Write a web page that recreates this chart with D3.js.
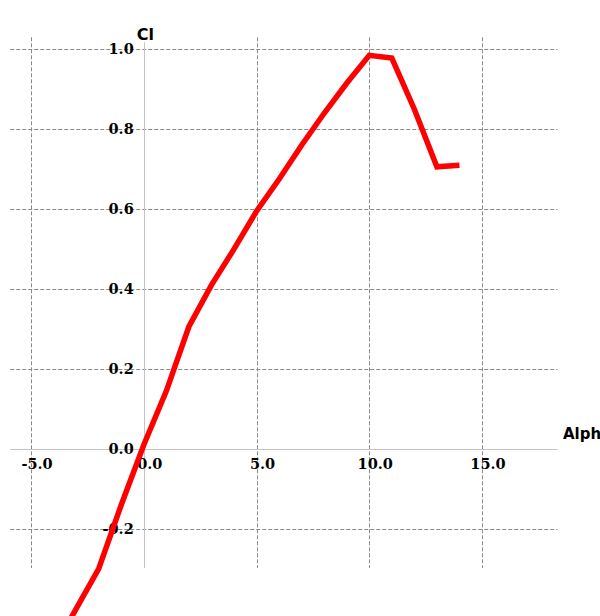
<!DOCTYPE html>
<html>
<head>
<meta charset="utf-8">
<script src="https://cdn.jsdelivr.net/npm/d3@7/dist/d3.min.js"></script>
<style>
  html, body { margin: 0; padding: 0; background: #fff; overflow: hidden; }
  svg { display: block; }
</style>
</head>
<body>
<svg id="chart" width="600" height="616"></svg>
<script>
// Lift coefficient polar: Cl against angle of attack (deg)
const alpha = [-4, -3, -2, -1, 0, 1, 2, 3, 4, 5, 6, 7, 8, 9, 10, 11, 12, 13, 14];
const cl    = [-0.50, -0.40, -0.30, -0.14, 0.01, 0.145, 0.306, 0.41, 0.50, 0.595, 0.675, 0.76, 0.84, 0.915, 0.985, 0.978, 0.85, 0.706, 0.71];

const xTicks = [-5, 0, 5, 10, 15];
const yTicks = [-0.2, 0.0, 0.2, 0.4, 0.6, 0.8, 1.0];
const xGridTicks = [-5, 5, 10, 15];
const yGridTicks = [-0.2, 0.2, 0.4, 0.6, 0.8, 1.0];

const svg = d3.select("#chart");

const x = d3.scaleLinear().domain([-5, 15]).range([31, 482]);
const y = d3.scaleLinear().domain([-0.2, 1.0]).range([529, 49.3]);

// extent of the drawn grid area
const xSpan = [-5.92, 18.35];
const ySpan = [-0.2975, 1.015];

const gridColor = "#8a8a8a";
const axisColor = "#c4c4c4";

// one decimal, plain hyphen for negatives
const fmt = d => d.toFixed(1).replace("-0.0", "0.0");

// dashed grid
svg.append("g").selectAll("line.v").data(xGridTicks).join("line")
  .attr("x1", d => Math.round(x(d)) + 0.5).attr("x2", d => Math.round(x(d)) + 0.5)
  .attr("y1", y(ySpan[1]) - 6).attr("y2", y(ySpan[0]))
  .attr("stroke", gridColor).attr("stroke-width", 1).attr("stroke-dasharray", "4,2");

svg.append("g").selectAll("line.h").data(yGridTicks).join("line")
  .attr("x1", x(xSpan[0])).attr("x2", x(xSpan[1]))
  .attr("y1", d => Math.round(y(d)) + 0.5).attr("y2", d => Math.round(y(d)) + 0.5)
  .attr("stroke", gridColor).attr("stroke-width", 1).attr("stroke-dasharray", "4,2");

// axes through the origin
svg.append("line")
  .attr("x1", x(xSpan[0])).attr("x2", x(xSpan[1]))
  .attr("y1", Math.round(y(0)) + 0.5).attr("y2", Math.round(y(0)) + 0.5)
  .attr("stroke", axisColor).attr("stroke-width", 1);
svg.append("line")
  .attr("x1", Math.round(x(0)) + 0.5).attr("x2", Math.round(x(0)) + 0.5)
  .attr("y1", y(ySpan[1]) - 1).attr("y2", y(ySpan[0]))
  .attr("stroke", axisColor).attr("stroke-width", 1);

// tick labels
const labelFont = "'DejaVu Serif', serif";
svg.append("g").selectAll("text").data(yTicks).join("text")
  .attr("x", x(0) - 10).attr("y", d => y(d) + 5)
  .attr("text-anchor", "end")
  .attr("font-family", labelFont).attr("font-weight", "bold").attr("font-size", 14.5)
  .attr("fill", "#000")
  .text(fmt);

svg.append("g").selectAll("text").data(xTicks).join("text")
  .attr("x", d => x(d) + 6).attr("y", y(0) + 19.5)
  .attr("text-anchor", "middle")
  .attr("font-family", labelFont).attr("font-weight", "bold").attr("font-size", 14.5)
  .attr("fill", "#000")
  .text(fmt);

// axis titles
svg.append("text")
  .attr("x", x(0) - 7).attr("y", 40)
  .attr("font-family", "'DejaVu Sans', sans-serif").attr("font-weight", "bold").attr("font-size", 16)
  .attr("fill", "#000").text("Cl");
svg.append("text")
  .attr("x", 563).attr("y", 439)
  .attr("font-family", "'DejaVu Sans', sans-serif").attr("font-weight", "bold").attr("font-size", 15)
  .attr("fill", "#000").text("Alpha");

// Cl curve
const pts = alpha.map((a, i) => [a, cl[i]]);
const line = d3.line().x(d => x(d[0])).y(d => y(d[1]));
svg.append("path")
  .attr("d", line(pts))
  .attr("fill", "none")
  .attr("stroke", "#ff0000")
  .attr("stroke-width", 5.5)
  .attr("stroke-linejoin", "miter");
</script>
</body>
</html>
